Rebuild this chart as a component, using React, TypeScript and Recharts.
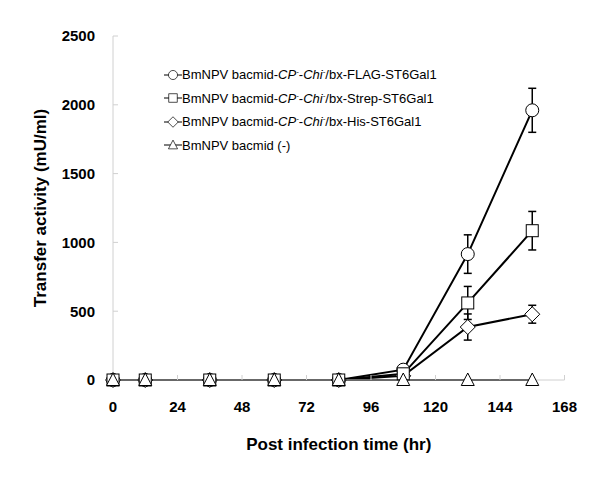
import { ComposedChart, Line, XAxis, YAxis, ErrorBar } from 'recharts';

const times = [0, 12, 36, 60, 84, 108, 132, 156];
const flag = [0, 0, 0, 0, 0, 75, 915, 1960];
const flagErr = [0, 0, 0, 0, 0, 35, 140, 160];
const strep = [0, 0, 0, 0, 0, 45, 560, 1085];
const strepErr = [0, 0, 0, 0, 0, 20, 120, 140];
const his = [0, 0, 0, 0, 0, 30, 385, 478];
const hisErr = [0, 0, 0, 0, 0, 15, 95, 65];
const negative = [0, 0, 0, 0, 0, 0, 0, 0];
const xTicks = [0, 24, 48, 72, 96, 120, 144, 168];
const yTicks = [0, 500, 1000, 1500, 2000, 2500];
const tags = ['FLAG', 'Strep', 'His'];

const data = times.map((t, i) => ({
  time: t,
  flag: flag[i],
  flagErr: flagErr[i],
  strep: strep[i],
  strepErr: strepErr[i],
  his: his[i],
  hisErr: hisErr[i],
  neg: negative[i],
}));

type Shape = 'circle' | 'square' | 'diamond' | 'triangle';

function Marker({ cx, cy, shape }: { cx: number; cy: number; shape: Shape }) {
  const p = { fill: '#fff', stroke: '#000', strokeWidth: 1 };
  if (shape === 'circle') return <circle cx={cx} cy={cy} r={6.5} {...p} />;
  if (shape === 'square') return <rect x={cx - 6} y={cy - 6} width={12} height={12} {...p} />;
  if (shape === 'diamond')
    return <polygon points={`${cx},${cy - 7.5} ${cx + 7.5},${cy} ${cx},${cy + 7.5} ${cx - 7.5},${cy}`} {...p} />;
  return <polygon points={`${cx},${cy - 7} ${cx + 6.5},${cy + 5.5} ${cx - 6.5},${cy + 5.5}`} {...p} />;
}

const dot = (shape: Shape) => (props: any) => (
  <Marker key={`${shape}-${props.index}`} cx={props.cx} cy={props.cy} shape={shape} />
);

function LegendLabel({ tag }: { tag?: string }) {
  if (!tag) return <span>BmNPV bacmid (-)</span>;
  return (
    <span>
      BmNPV bacmid-<i>CP</i>
      <sup style={{ fontSize: 8 }}>-</sup>-<i>Chi</i>
      <sup style={{ fontSize: 8 }}>-</sup>/bx-{tag}-ST6Gal1
    </span>
  );
}

const legendRows: { shape: Shape; tag?: string }[] = [
  { shape: 'circle', tag: tags[0] },
  { shape: 'square', tag: tags[1] },
  { shape: 'diamond', tag: tags[2] },
  { shape: 'triangle' },
];

function LegendBox() {
  return (
    <div
      style={{
        position: 'absolute',
        left: 164,
        top: 63,
        fontFamily: 'Liberation Sans, Arial, sans-serif',
        fontSize: 13,
        color: '#000',
      }}
    >
      {legendRows.map((r) => (
        <div key={r.shape} style={{ display: 'flex', alignItems: 'center', height: 23.5 }}>
          <svg width={18} height={16}>
            <line x1={0} y1={8} x2={18} y2={8} stroke="#000" strokeWidth={1} />
            <g transform="translate(9,8) scale(0.7) translate(-9,-8)">
              <Marker cx={9} cy={8} shape={r.shape} />
            </g>
          </svg>
          <LegendLabel tag={r.tag} />
        </div>
      ))}
    </div>
  );
}

const tickFont = { fontSize: 15, fontWeight: 'bold', fill: '#000', fontFamily: 'Liberation Sans, Arial, sans-serif' };

export default function App() {
  return (
    <div style={{ position: 'absolute', left: 0, top: 0, width: 600, height: 487, background: '#fff' }}>
      <ComposedChart width={600} height={487} data={data} margin={{ top: 36, right: 35.5, bottom: 0, left: 0 }}>
        <XAxis
          dataKey="time"
          type="number"
          domain={[0, 168]}
          ticks={xTicks}
          height={107}
          tick={tickFont}
          tickSize={-5}
          tickMargin={26}
          axisLine={{ stroke: '#d0d0d0' }}
          tickLine={{ stroke: '#d0d0d0' }}
          label={{
            value: 'Post infection time (hr)',
            position: 'insideBottom',
            offset: 37,
            style: { ...tickFont, fontSize: 17, textAnchor: 'middle' },
          }}
        />
        <YAxis
          type="number"
          domain={[0, 2500]}
          ticks={yTicks}
          width={113}
          tick={tickFont}
          tickSize={-5}
          tickMargin={23}
          axisLine={{ stroke: '#d0d0d0' }}
          tickLine={{ stroke: '#d0d0d0' }}
          label={{
            value: 'Transfer activity (mU/ml)',
            angle: -90,
            position: 'insideLeft',
            offset: 40,
            style: { ...tickFont, fontSize: 17, textAnchor: 'middle' },
          }}
        />
        <Line dataKey="flag" stroke="#000" strokeWidth={2} dot={dot('circle')} isAnimationActive={false}>
          <ErrorBar dataKey="flagErr" width={4} stroke="#000" strokeWidth={1.5} />
        </Line>
        <Line dataKey="his" stroke="#000" strokeWidth={2} dot={dot('diamond')} isAnimationActive={false}>
          <ErrorBar dataKey="hisErr" width={4} stroke="#000" strokeWidth={1.5} />
        </Line>
        <Line dataKey="strep" stroke="#000" strokeWidth={2} dot={dot('square')} isAnimationActive={false}>
          <ErrorBar dataKey="strepErr" width={4} stroke="#000" strokeWidth={1.5} />
        </Line>
        <Line dataKey="neg" stroke="#000" strokeWidth={2} dot={dot('triangle')} isAnimationActive={false} />
      </ComposedChart>
      <LegendBox />
    </div>
  );
}
